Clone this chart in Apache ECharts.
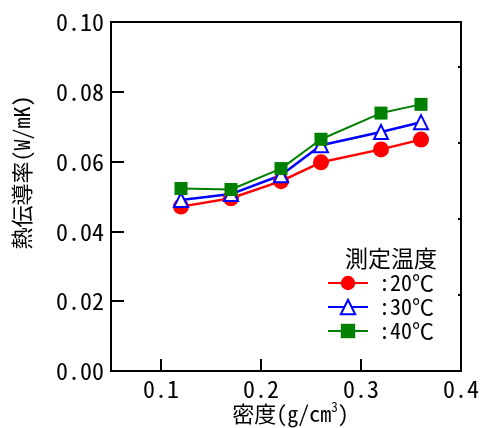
<!DOCTYPE html>
<html><head><meta charset="utf-8">
<script src="https://cdn.jsdelivr.net/npm/echarts@6/dist/echarts.min.js"></script>
<style>html,body{margin:0;padding:0;background:#fff}#c{width:480px;height:428px}</style>
</head><body><div id="c"></div>
<script>
const density = [0.12, 0.17, 0.22, 0.26, 0.32, 0.36];
const t20 = [0.0471, 0.0495, 0.0544, 0.0598, 0.0635, 0.0663];
const t30 = [0.0490, 0.0507, 0.0561, 0.0647, 0.0685, 0.0713];
const t40 = [0.0523, 0.0520, 0.0580, 0.0664, 0.0739, 0.0764];
const seriesNames = [':20℃', ':30℃', ':40℃'];
const xTicks = [0.1, 0.2, 0.3, 0.4];
const yTicks = [0, 0.02, 0.04, 0.06, 0.08, 0.10];
const legendTitle = '測定温度';
const xName = '密度(g/cm';
const yName = '熱伝導率(W/mK)';

const CJK = '"Noto Sans CJK JP", sans-serif';
const NUM = '"Noto Sans Mono CJK JP", "Liberation Mono", monospace';
const pair = (ys) => density.map((x, i) => [x, ys[i]]);

const chart = echarts.init(document.getElementById('c'), null, {renderer: 'canvas'});
chart.setOption({
  animation: false,
  backgroundColor: '#fff',
  grid: {left: 111, right: 19, top: 22, bottom: 57, outerBoundsMode: 'none', containLabel: false,
         show: true, borderColor: '#000', borderWidth: 2, backgroundColor: 'transparent'},
  title: {text: legendTitle, left: 340, top: 242, textStyle: {fontFamily: CJK, fontSize: 23, fontWeight: 'normal', color: '#000'}},
  legend: {
    orient: 'vertical', left: 322, top: 267, itemWidth: 40, itemHeight: 18, itemGap: 2,
    data: seriesNames,
    textStyle: {fontFamily: NUM, fontSize: 22, color: '#000', padding: [0, 0, 0, 6]}
  },
  xAxis: {
    type: 'value', min: 0.05, max: 0.4,
    name: '{a|' + xName + '}{s|3}{a|)}', nameLocation: 'middle', nameGap: 30, nameMoveOverlap: false,
    nameTextStyle: {padding: [0, 0, 0, 9], rich: {
      a: {fontFamily: NUM, fontSize: 22, color: '#000'},
      s: {fontFamily: NUM, fontSize: 13, color: '#000', padding: [0, 0, 12, 0]}
    }},
    axisLine: {lineStyle: {color: '#000', width: 2}},
    axisTick: {inside: true, length: 12, lineStyle: {color: '#000', width: 2}, customValues: xTicks.slice(0, 3)},
    axisLabel: {customValues: xTicks, formatter: v => v.toFixed(1), fontFamily: NUM, fontSize: 24, color: '#000', margin: 6},
    splitLine: {show: false}
  },
  yAxis: [{
    type: 'value', min: 0, max: 0.1, interval: 0.02,
    name: yName, nameLocation: 'middle', nameGap: 78, nameMoveOverlap: false,
    nameTextStyle: {fontFamily: NUM, fontSize: 22, color: '#000', padding: [0, 0, 0, 48]},
    axisLine: {show: true, lineStyle: {color: '#000', width: 2}},
    axisTick: {inside: true, length: 13, lineStyle: {color: '#000', width: 2}},
    axisLabel: {customValues: yTicks, formatter: v => v.toFixed(2), fontFamily: NUM, fontSize: 24, color: '#000', margin: 7},
    splitLine: {show: false}
  }, {
    type: 'value', position: 'right', min: 0, max: 4.59, interval: 1,
    axisLine: {show: true, lineStyle: {color: '#000', width: 2}},
    axisTick: {show: true, inside: true, length: 3, lineStyle: {color: '#000', width: 2}},
    axisLabel: {show: false}, splitLine: {show: false}
  }],
  series: [
    {name: seriesNames[0], type: 'line', data: pair(t20), symbol: 'circle', symbolSize: 16,
     lineStyle: {color: '#ff0000', width: 2.5}, itemStyle: {color: '#ff0000'}},
    {name: seriesNames[1], type: 'line', data: pair(t30), symbol: 'triangle', symbolSize: 14,
     lineStyle: {color: '#0000ff', width: 2.5}, itemStyle: {color: '#fff', borderColor: '#0000ff', borderWidth: 2}},
    {name: seriesNames[2], type: 'line', data: pair(t40), symbol: 'rect', symbolSize: 13,
     lineStyle: {color: '#008000', width: 2}, itemStyle: {color: '#008000'}}
  ]
});
</script></body></html>
